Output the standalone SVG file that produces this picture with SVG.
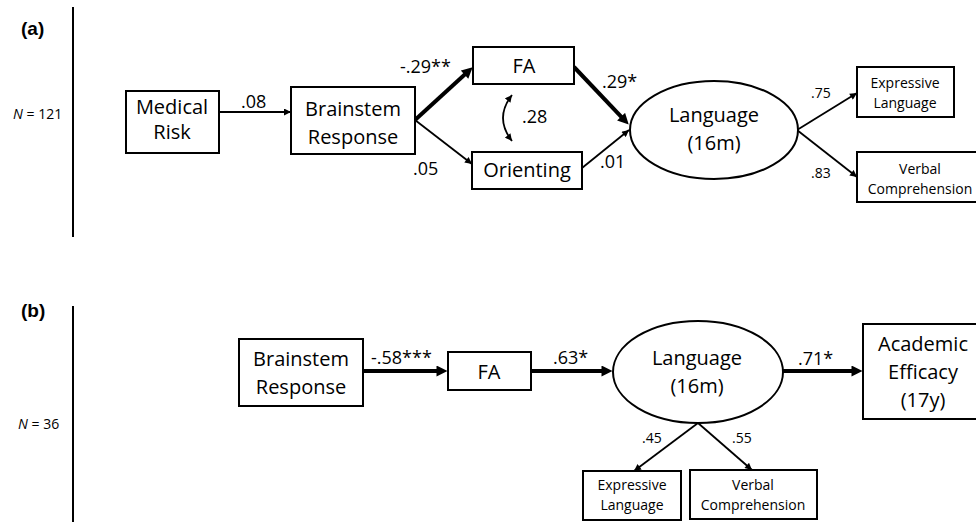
<svg xmlns="http://www.w3.org/2000/svg" width="976" height="531" viewBox="0 0 976 531">
<style>
text{font-family:"Open Sans","Liberation Sans",sans-serif;fill:#000}
.box{fill:#fff;stroke:#000;stroke-width:2}
.n{font-size:20px;text-anchor:middle}
.s{font-size:14px;text-anchor:middle}
.lab{font-size:18px}
.sl{font-size:14px}
.hd{font-family:"Liberation Sans",Arial,sans-serif;font-weight:bold;font-size:19px}
.thin{stroke:#000;stroke-width:1.8;fill:none;marker-end:url(#ah)}
.thick{stroke:#000;stroke-width:4;fill:none;marker-end:url(#ahk)}
</style>
<defs>
<marker id="ah" viewBox="0 0 10 10" refX="10" refY="5" markerWidth="8" markerHeight="7" markerUnits="userSpaceOnUse" orient="auto-start-reverse"><path d="M0,0 L10,5 L0,10 z" fill="#000"/></marker>
<marker id="ahk" viewBox="0 0 10 10" refX="5" refY="5" markerWidth="12" markerHeight="11" markerUnits="userSpaceOnUse" orient="auto"><path d="M0,0 L10,5 L0,10 z" fill="#000"/></marker>
</defs>
<rect width="976" height="531" fill="#fff"/>

<g id="panel-a-label">
<text class="hd" x="21" y="35">(a)</text>
<text x="13" y="119" font-size="14"><tspan font-style="italic">N</tspan> = 121</text>
<line x1="73" y1="7" x2="73" y2="237" stroke="#000" stroke-width="2"/>
</g>
<g id="panel-b-label">
<text class="hd" x="21" y="317">(b)</text>
<text x="18" y="429" font-size="14"><tspan font-style="italic">N</tspan> = 36</text>
<line x1="73" y1="306" x2="73" y2="522" stroke="#000" stroke-width="2"/>
</g>

<g id="connectors">
<line class="thin" x1="219" y1="112" x2="291" y2="112"/>
<line class="thick" x1="415" y1="120" x2="468.6" y2="71"/>
<line class="thin" x1="415" y1="120" x2="472" y2="164"/>
<path d="M512,95 Q494,118 512,141" stroke="#000" stroke-width="1.8" fill="none" marker-start="url(#ah)" marker-end="url(#ah)"/>
<line class="thick" x1="574" y1="67" x2="624.9" y2="120.6"/>
<line class="thin" x1="582" y1="168" x2="629" y2="130"/>
<line class="thin" x1="797" y1="130" x2="857" y2="93"/>
<line class="thin" x1="797" y1="130" x2="857" y2="177"/>

<line class="thick" x1="363" y1="371" x2="442" y2="371"/>
<line class="thick" x1="531" y1="371" x2="607" y2="371"/>
<line class="thick" x1="783" y1="371" x2="857" y2="371"/>
<line class="thin" x1="698" y1="423" x2="634" y2="471"/>
<line class="thin" x1="698" y1="423" x2="752" y2="470"/>

<text class="lab" x="241" y="108">.08</text>
<text class="lab" x="400" y="73">-.29**</text>
<text class="lab" x="413" y="175">.05</text>
<text class="lab" x="522" y="123">.28</text>
<text class="lab" x="602" y="88">.29*</text>
<text class="lab" x="600" y="168">.01</text>
<text class="sl" x="811" y="98">.75</text>
<text class="sl" x="811" y="178">.83</text>

<text class="lab" x="371" y="364">-.58***</text>
<text class="lab" x="553" y="364">.63*</text>
<text class="lab" x="798" y="365">.71*</text>
<text class="sl" x="642" y="443">.45</text>
<text class="sl" x="732" y="443">.55</text>
</g>

<g id="a-medical-risk">
<rect class="box" x="126" y="91" width="93" height="62"/>
<text class="n" x="172" y="114" font-size="17">Medical</text>
<text class="n" x="172" y="139" font-size="17">Risk</text>
</g>
<g id="a-brainstem">
<rect class="box" x="291" y="87" width="124" height="67"/>
<text class="n" x="353" y="116">Brainstem</text>
<text class="n" x="353" y="144">Response</text>
</g>
<g id="a-fa">
<rect class="box" x="473" y="47" width="101" height="37"/>
<text class="n" x="524" y="73">FA</text>
</g>
<g id="a-orienting">
<rect class="box" x="472" y="152" width="110" height="37"/>
<text class="n" x="527" y="177">Orienting</text>
</g>
<g id="a-language">
<ellipse cx="714" cy="130" rx="84" ry="49" fill="#fff" stroke="#000" stroke-width="2"/>
<text class="n" x="714" y="122">Language</text>
<text class="n" x="714" y="150">(16m)</text>
</g>
<g id="a-expressive">
<rect class="box" x="857" y="67" width="97" height="50"/>
<text class="s" x="905" y="88">Expressive</text>
<text class="s" x="905" y="108">Language</text>
</g>
<g id="a-verbal">
<rect class="box" x="857" y="152" width="125" height="50"/>
<text class="s" x="920" y="174">Verbal</text>
<text class="s" x="920" y="194">Comprehension</text>
</g>

<g id="b-brainstem">
<rect class="box" x="239" y="339" width="124" height="67"/>
<text class="n" x="301" y="366">Brainstem</text>
<text class="n" x="301" y="394">Response</text>
</g>
<g id="b-fa">
<rect class="box" x="448" y="352" width="83" height="38"/>
<text class="n" x="489" y="379">FA</text>
</g>
<g id="b-language">
<ellipse cx="698" cy="372" rx="85" ry="51" fill="#fff" stroke="#000" stroke-width="2"/>
<text class="n" x="697" y="365">Language</text>
<text class="n" x="697" y="393">(16m)</text>
</g>
<g id="b-academic">
<rect class="box" x="863" y="324" width="120" height="95"/>
<text class="n" x="923" y="351" font-size="21">Academic</text>
<text class="n" x="923" y="379" font-size="21">Efficacy</text>
<text class="n" x="923" y="407" font-size="21">(17y)</text>
</g>
<g id="b-expressive">
<rect class="box" x="583" y="471" width="98" height="49"/>
<text class="s" x="632" y="490">Expressive</text>
<text class="s" x="632" y="510">Language</text>
</g>
<g id="b-verbal">
<rect class="box" x="690" y="470" width="127" height="49"/>
<text class="s" x="753" y="490">Verbal</text>
<text class="s" x="753" y="510">Comprehension</text>
</g>
</svg>
